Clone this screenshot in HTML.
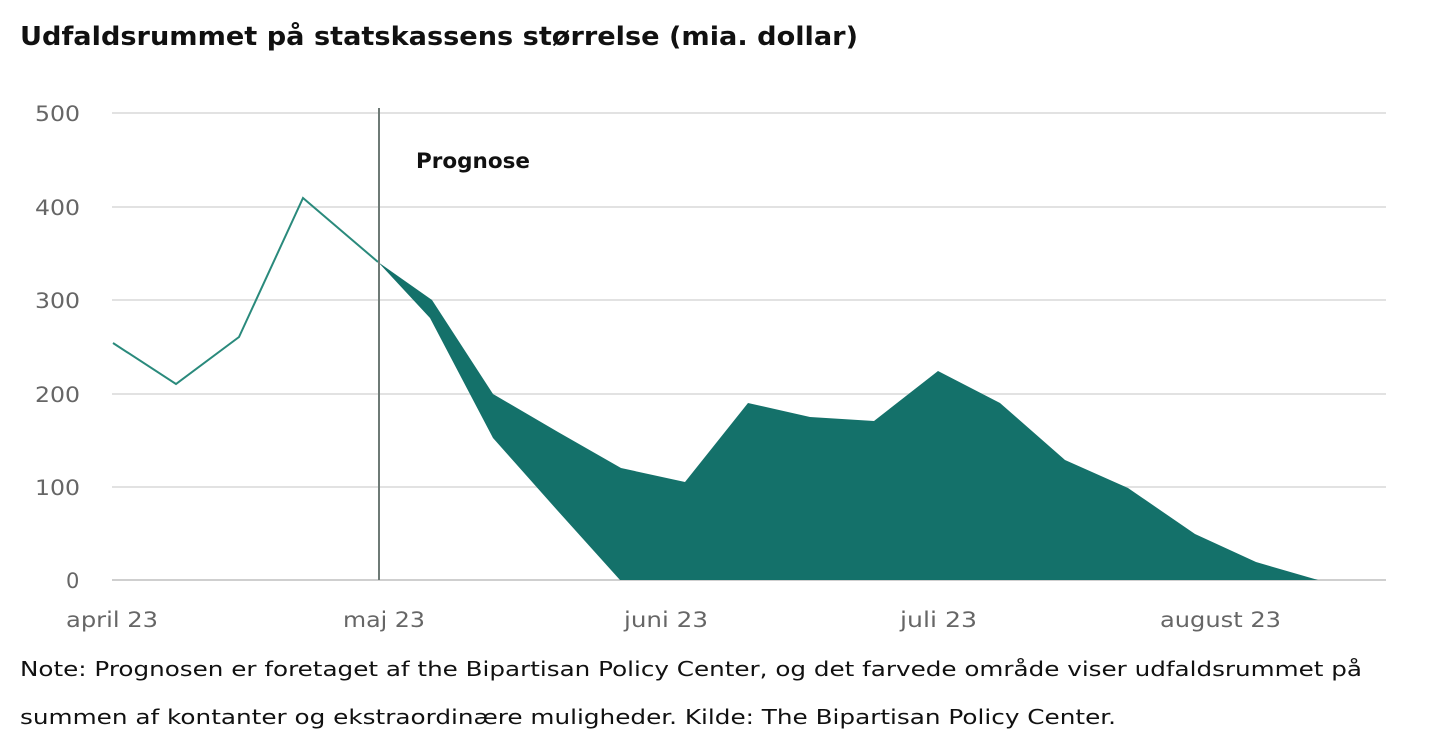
<!DOCTYPE html>
<html><head><meta charset="utf-8"><style>
html,body{margin:0;padding:0;background:#fff;}
svg{display:block;}
text{font-family:"DejaVu Sans","Liberation Sans",sans-serif;}
</style></head><body>
<svg width="1440" height="740" viewBox="0 0 1440 740" xmlns="http://www.w3.org/2000/svg">
<text x="20" y="45" font-size="26" font-weight="bold" fill="#111" textLength="838" lengthAdjust="spacingAndGlyphs">Udfaldsrummet på statskassens størrelse (mia. dollar)</text>
<g stroke="#e2e2e2" stroke-width="2">
<line x1="112" y1="113" x2="1386" y2="113"/>
<line x1="112" y1="207" x2="1386" y2="207"/>
<line x1="112" y1="300" x2="1386" y2="300"/>
<line x1="112" y1="394" x2="1386" y2="394"/>
<line x1="112" y1="487" x2="1386" y2="487"/>
</g>
<line x1="112" y1="580" x2="1386" y2="580" stroke="#cfcfcf" stroke-width="2"/>
<g font-size="21" fill="#666">
<text x="35" y="121" textLength="45" lengthAdjust="spacingAndGlyphs">500</text>
<text x="35" y="215" textLength="45" lengthAdjust="spacingAndGlyphs">400</text>
<text x="35" y="308" textLength="45" lengthAdjust="spacingAndGlyphs">300</text>
<text x="35" y="402" textLength="45" lengthAdjust="spacingAndGlyphs">200</text>
<text x="35" y="495" textLength="45" lengthAdjust="spacingAndGlyphs">100</text>
<text x="66" y="588">0</text>
<text x="66" y="627" textLength="92" lengthAdjust="spacingAndGlyphs">april 23</text>
<text x="343" y="627" textLength="82" lengthAdjust="spacingAndGlyphs">maj 23</text>
<text x="624" y="627" textLength="84" lengthAdjust="spacingAndGlyphs">juni 23</text>
<text x="900" y="627" textLength="77" lengthAdjust="spacingAndGlyphs">juli 23</text>
<text x="1160" y="627" textLength="121" lengthAdjust="spacingAndGlyphs">august 23</text>
</g>
<polygon fill="#14716a" points="378,262 432,300 493,394 558,432 621,468 685,482 748,403 810,417 874,421 938,371 1000,403 1065,460 1128,488 1195,534 1256,562 1318,580 620,580 557,510 493,438 430,318"/>
<polyline fill="none" stroke="#2a8a7c" stroke-width="2" points="113,343 176,384 239,337 303,198 378,262"/>
<line x1="379" y1="108" x2="379" y2="580" stroke="#6e7a76" stroke-width="2"/>
<text x="416" y="168" font-size="21" font-weight="bold" fill="#111" textLength="114" lengthAdjust="spacingAndGlyphs">Prognose</text>
<text x="20" y="676" font-size="20" fill="#111" textLength="1342" lengthAdjust="spacingAndGlyphs">Note: Prognosen er foretaget af the Bipartisan Policy Center, og det farvede område viser udfaldsrummet på</text>
<text x="20" y="724" font-size="20" fill="#111" textLength="1096" lengthAdjust="spacingAndGlyphs">summen af kontanter og ekstraordinære muligheder. Kilde: The Bipartisan Policy Center.</text>
</svg>
</body></html>
